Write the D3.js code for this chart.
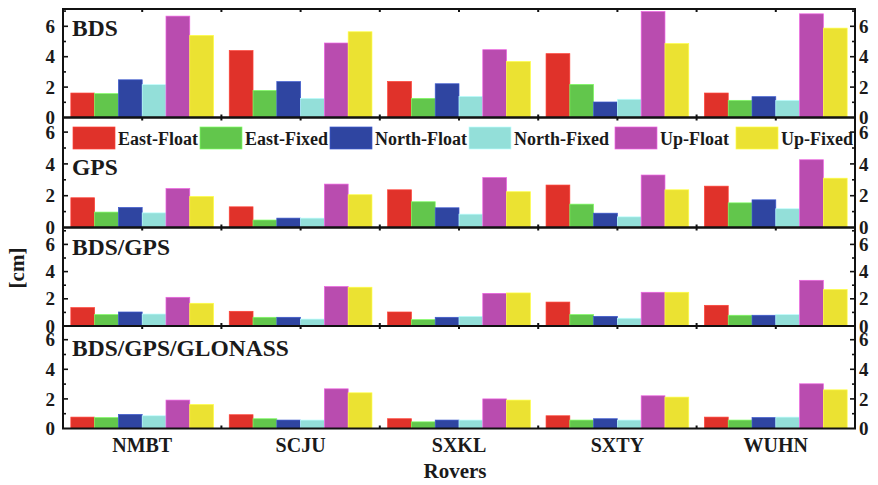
<!DOCTYPE html>
<html>
<head>
<meta charset="utf-8">
<script src="https://cdn.jsdelivr.net/npm/d3@7"></script>
<style>
  html, body { margin: 0; padding: 0; background: #fff; }
  svg { display: block; font-family: "Liberation Serif", "Times New Roman", serif; font-weight: bold; }
</style>
</head>
<body>
<svg id="chart" width="878" height="485"></svg>
<script>
// Rovers on the x axis
const rovers = ["NMBT", "SCJU", "SXKL", "SXTY", "WUHN"];
// Error components drawn as bars inside each rover group
const components = ["East-Float", "East-Fixed", "North-Float", "North-Fixed", "Up-Float", "Up-Fixed"];
const componentColors = ["#e0322a", "#62c64c", "#2f45a1", "#93dfd9", "#b94caf", "#ebe232"];
// Constellation configurations, one panel each
const systems = ["BDS", "GPS", "BDS/GPS", "BDS/GPS/GLONASS"];
// y ticks (cm)
const yTickLabels = [0, 2, 4, 6];
const yMinorTicks = [1, 3, 5, 7];

// RMS values in cm, per rover: [E-Float, E-Fixed, N-Float, N-Fixed, U-Float, U-Fixed]
const bdsValues = [
  [1.61, 1.57, 2.48, 2.16, 6.67, 5.40],
  [4.40, 1.78, 2.36, 1.26, 4.90, 5.64],
  [2.37, 1.26, 2.22, 1.39, 4.46, 3.68],
  [4.20, 2.18, 1.02, 1.20, 6.97, 4.86],
  [1.61, 1.13, 1.37, 1.13, 6.82, 5.88]
];
const gpsValues = [
  [1.87, 0.97, 1.26, 0.92, 2.45, 1.95],
  [1.30, 0.47, 0.59, 0.59, 2.73, 2.06],
  [2.37, 1.62, 1.24, 0.84, 3.14, 2.25],
  [2.67, 1.47, 0.90, 0.67, 3.30, 2.37],
  [2.60, 1.55, 1.74, 1.18, 4.26, 3.10]
];
const bdsGpsValues = [
  [1.35, 0.84, 1.03, 0.88, 2.11, 1.67],
  [1.08, 0.64, 0.64, 0.51, 2.90, 2.85],
  [1.03, 0.47, 0.64, 0.71, 2.40, 2.43],
  [1.76, 0.84, 0.71, 0.57, 2.48, 2.48],
  [1.52, 0.79, 0.79, 0.84, 3.36, 2.68]
];
const bdsGpsGlonassValues = [
  [0.77, 0.74, 0.95, 0.86, 1.92, 1.62],
  [0.93, 0.66, 0.57, 0.57, 2.68, 2.41],
  [0.66, 0.45, 0.57, 0.57, 2.00, 1.92],
  [0.86, 0.57, 0.66, 0.57, 2.21, 2.12],
  [0.77, 0.57, 0.74, 0.77, 3.02, 2.61]
];
const panelValues = [bdsValues, gpsValues, bdsGpsValues, bdsGpsGlonassValues];

// ---- layout ----
const plotLeft = 63, plotRight = 855;
const panelBounds = [[9, 117.5], [117.5, 227.5], [227.5, 326], [326, 428.5]];
const pxPerCm = [15.2, 15.9, 13.6, 14.8];
const titleOffsets = [27, 57, 27, 30];
const legendSlots = [73, 200, 330, 469, 615, 736];
const yMax = 7;

const svg = d3.select("#chart");

const x0 = d3.scaleBand().domain(rovers).range([plotLeft, plotRight]).paddingInner(0).paddingOuter(0);
const x1 = d3.scaleBand().domain(components).range([0, x0.bandwidth()]).paddingInner(0).paddingOuter(0.33);
const color = d3.scaleOrdinal().domain(components).range(componentColors);

// half-group positions used for the top/bottom tick marks
const halfStep = x0.bandwidth() / 2;
const xTickPos = d3.range(1, rovers.length * 2).map(i => plotLeft + i * halfStep);

systems.forEach((sys, p) => {
  const [top, bottom] = panelBounds[p];
  const y = d3.scaleLinear().domain([0, yMax]).range([bottom, bottom - yMax * pxPerCm[p]]);
  const g = svg.append("g").attr("class", "panel");

  // inward ticks: left and right
  const allY = yTickLabels.concat(yMinorTicks).filter(v => v > 0 && y(v) > top + 1);
  allY.forEach(v => {
    const len = yTickLabels.includes(v) ? 5 : 3;
    g.append("line").attr("x1", plotLeft).attr("x2", plotLeft + len)
      .attr("y1", y(v)).attr("y2", y(v)).attr("stroke", "#111").attr("stroke-width", 1.6);
    g.append("line").attr("x1", plotRight).attr("x2", plotRight - len)
      .attr("y1", y(v)).attr("y2", y(v)).attr("stroke", "#111").attr("stroke-width", 1.6);
  });
  // inward ticks: top and bottom
  xTickPos.forEach(xp => {
    g.append("line").attr("x1", xp).attr("x2", xp).attr("y1", bottom).attr("y2", bottom - 3)
      .attr("stroke", "#111").attr("stroke-width", 2);
    g.append("line").attr("x1", xp).attr("x2", xp).attr("y1", top).attr("y2", top + 3)
      .attr("stroke", "#111").attr("stroke-width", 2);
  });

  // bars
  const groups = g.selectAll("g.rover").data(panelValues[p]).join("g")
    .attr("class", "rover")
    .attr("transform", (d, i) => `translate(${x0(rovers[i])},0)`);
  groups.selectAll("rect").data(d => d.map((v, j) => ({ key: components[j], value: v })))
    .join("rect")
    .attr("x", d => x1(d.key))
    .attr("width", x1.bandwidth())
    .attr("y", d => Math.max(y(d.value), top))
    .attr("height", d => y(0) - Math.max(y(d.value), top))
    .attr("fill", d => color(d.key))
    .attr("stroke", d => d3.color(color(d.key)).brighter(0.7))
    .attr("stroke-width", 0.7);

  // frame
  g.append("rect").attr("x", plotLeft).attr("y", top)
    .attr("width", plotRight - plotLeft).attr("height", bottom - top)
    .attr("fill", "none").attr("stroke", "#111").attr("stroke-width", 2);

  // tick labels on both sides
  yTickLabels.forEach(v => {
    g.append("text").attr("x", plotLeft - 8).attr("y", y(v)).attr("dy", "0.35em")
      .attr("text-anchor", "end").attr("font-size", 19).attr("fill", "#1a1a1a").text(v);
    g.append("text").attr("x", plotRight + 4).attr("y", y(v)).attr("dy", "0.35em")
      .attr("text-anchor", "start").attr("font-size", 19).attr("fill", "#1a1a1a").text(v);
  });

  // panel title
  g.append("text").attr("x", plotLeft + 9).attr("y", top + titleOffsets[p])
    .attr("font-size", 23.5).attr("fill", "#1a1a1a").text(sys);
});

// legend across the top of the second panel
const legend = svg.append("g").attr("class", "legend");
const legendTop = 127, swatchW = 42, swatchH = 22;
components.forEach((c, i) => {
  const lx = legendSlots[i];
  legend.append("rect").attr("x", lx).attr("y", legendTop).attr("width", swatchW).attr("height", swatchH)
    .attr("fill", color(c)).attr("stroke", d3.color(color(c)).brighter(0.7)).attr("stroke-width", 0.7);
  legend.append("text").attr("x", lx + swatchW + 3).attr("y", legendTop + 18)
    .attr("font-size", 18).attr("fill", "#1a1a1a").text(c);
});

// category labels
svg.append("g").selectAll("text").data(rovers).join("text")
  .attr("x", d => x0(d) + x0.bandwidth() / 2)
  .attr("y", 452)
  .attr("text-anchor", "middle").attr("font-size", 20).attr("fill", "#1a1a1a")
  .text(d => d);

// axis titles
svg.append("text").attr("x", 455).attr("y", 478).attr("text-anchor", "middle")
  .attr("font-size", 21).attr("fill", "#1a1a1a").text("Rovers");
svg.append("text").attr("transform", "translate(24,268) rotate(-90)").attr("text-anchor", "middle")
  .attr("font-size", 21).attr("fill", "#1a1a1a").text("[cm]");
</script>
</body>
</html>
